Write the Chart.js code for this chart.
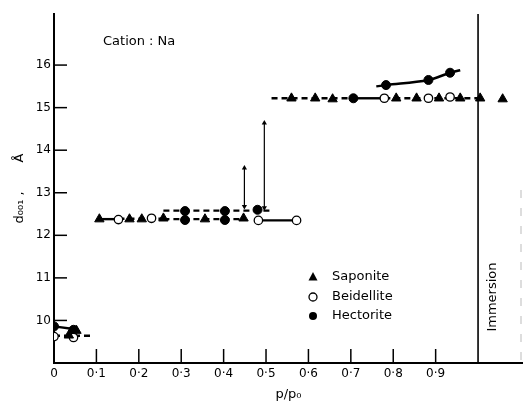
<!DOCTYPE html>
<html><head><meta charset="utf-8">
<script src="https://cdn.jsdelivr.net/npm/chart.js@4.4.1/dist/chart.umd.min.js"></script>
<style>html,body{margin:0;padding:0;background:#fff}#wrap{width:523px;height:402px;position:relative}</style>
</head><body><div id="wrap"><canvas id="c"></canvas></div>
<script>
// ---- tick labels ----
const xTickValues = [0, 0.1, 0.2, 0.3, 0.4, 0.5, 0.6, 0.7, 0.8, 0.9];
const xTickLabels = ['0', '0·1', '0·2', '0·3', '0·4', '0·5', '0·6', '0·7', '0·8', '0·9'];
const yTickValues = [10, 11, 12, 13, 14, 15, 16];
const yTickLabels = ['10', '11', '12', '13', '14', '15', '16'];

// ---- series (p/p0, d001 in Å) ----
const saponiteX = [0.035, 0.053, 0.107, 0.178, 0.207, 0.258, 0.356, 0.447, 0.56, 0.616, 0.657, 0.807, 0.855, 0.908, 0.958, 1.005, 1.058];
const saponiteY = [9.65, 9.76, 12.38, 12.38, 12.38, 12.4, 12.38, 12.4, 15.22, 15.22, 15.2, 15.22, 15.22, 15.22, 15.22, 15.22, 15.2];
const beidelliteX = [0.0, 0.046, 0.152, 0.230, 0.482, 0.572, 0.779, 0.883, 0.934];
const beidelliteY = [9.62, 9.6, 12.37, 12.4, 12.35, 12.35, 15.22, 15.22, 15.25];
const hectoriteX = [0.0, 0.046, 0.309, 0.309, 0.403, 0.403, 0.48, 0.706, 0.783, 0.883, 0.934];
const hectoriteY = [9.86, 9.78, 12.57, 12.36, 12.57, 12.36, 12.6, 15.22, 15.53, 15.65, 15.82];

// ---- connecting lines ----
const dashedSegX = [[0, 0.085], [0.152, 0.258], [0.258, 0.45], [0.258, 0.51], [0.513, 0.706], [0.779, 1.005], [0.76, 0.783]];
const dashedSegY = [[9.64, 9.64], [12.39, 12.39], [12.38, 12.38], [12.58, 12.58], [15.22, 15.22], [15.22, 15.22], [15.5, 15.53]];
const solidSegX = [[0, 0.046], [0.107, 0.152], [0.482, 0.572], [0.706, 0.779]];
const solidSegY = [[9.86, 9.8], [12.38, 12.38], [12.35, 12.35], [15.22, 15.22]];
const hectoriteCurveX = [0.783, 0.883, 0.934, 0.958];
const hectoriteCurveY = [15.53, 15.65, 15.82, 15.88];
const arrowX = [0.449, 0.496];
const arrowLowY = [12.68, 12.65];
const arrowHighY = [13.58, 14.64];
const immersionX = 1.0;
const yMin = 9, yMax = 17.2, xMin = 0, xMax = 1.106;

const pts = (xs, ys) => xs.map((x, i) => ({x: x, y: ys[i]}));
const datasets = [];
datasets.push({label: 'Saponite', data: pts(saponiteX, saponiteY), showLine: false, pointStyle: 'triangle',
  pointRadius: 5.4, pointBackgroundColor: '#000', pointBorderColor: '#000', pointBorderWidth: 1, order: 0});
datasets.push({label: 'Beidellite', data: pts(beidelliteX, beidelliteY), showLine: false, pointStyle: 'circle',
  pointRadius: 4.2, pointBackgroundColor: '#fff', pointBorderColor: '#000', pointBorderWidth: 1.3, order: 0});
datasets.push({label: 'Hectorite', data: pts(hectoriteX, hectoriteY), showLine: false, pointStyle: 'circle',
  pointRadius: 4.5, pointBackgroundColor: '#000', pointBorderColor: '#000', pointBorderWidth: 1, order: 0});
dashedSegX.forEach((xs, k) => datasets.push({data: pts(xs, dashedSegY[k]), showLine: true, pointRadius: 0,
  borderColor: '#000', borderWidth: 2.4, borderDash: [6, 4], order: 5}));
solidSegX.forEach((xs, k) => datasets.push({data: pts(xs, solidSegY[k]), showLine: true, pointRadius: 0,
  borderColor: '#000', borderWidth: 2.4, order: 5}));
datasets.push({data: pts(hectoriteCurveX, hectoriteCurveY), showLine: true, pointRadius: 0, tension: 0.35,
  borderColor: '#000', borderWidth: 2.6, order: 5});
arrowX.forEach((x, k) => datasets.push({data: [{x: x, y: arrowHighY[k]}, {x: x, y: arrowLowY[k]}], showLine: true,
  borderColor: '#000', borderWidth: 1.2, pointStyle: 'triangle', pointRadius: 3, pointRotation: [0, 180],
  pointBackgroundColor: '#000', pointBorderColor: '#000', pointBorderWidth: 0, order: 5}));
datasets.push({data: [{x: immersionX, y: yMin}, {x: immersionX, y: yMax}], showLine: true, pointRadius: 0,
  borderColor: '#000', borderWidth: 1.6, order: 6});

const FONT = '"DejaVu Sans", sans-serif';

const decor = {
  id: 'decor',
  afterDraw(chart) {
    const ctx = chart.ctx, xs = chart.scales.x, ys = chart.scales.y, a = chart.chartArea;
    ctx.save();
    ctx.strokeStyle = '#000'; ctx.lineWidth = 1.5;
    xTickValues.forEach(v => { if (v === 0) return; const p = xs.getPixelForValue(v);
      ctx.beginPath(); ctx.moveTo(p, a.bottom); ctx.lineTo(p, a.bottom - 14); ctx.stroke(); });
    yTickValues.forEach(v => { const p = ys.getPixelForValue(v);
      ctx.beginPath(); ctx.moveTo(a.left, p); ctx.lineTo(a.left + 13, p); ctx.stroke(); });
    // faint scan edge
    ctx.strokeStyle = '#bbb'; ctx.lineWidth = 1; ctx.setLineDash([8, 10]);
    ctx.beginPath(); ctx.moveTo(521, 190); ctx.lineTo(521, 360); ctx.stroke(); ctx.setLineDash([]);
    ctx.fillStyle = '#000';
    ctx.font = '13px ' + FONT; ctx.textBaseline = 'middle'; ctx.textAlign = 'left';
    ctx.fillText('Cation : Na', 103, 42);
    // legend
    const lx = 313, rows = [277, 297, 316], names = ['Saponite', 'Beidellite', 'Hectorite'];
    rows.forEach((y, i) => {
      ctx.fillStyle = '#000'; ctx.strokeStyle = '#000'; ctx.lineWidth = 1.3;
      if (i === 0) { ctx.beginPath(); ctx.moveTo(lx, y - 5); ctx.lineTo(lx + 4.5, y + 3.5); ctx.lineTo(lx - 4.5, y + 3.5); ctx.closePath(); ctx.fill(); }
      else { ctx.beginPath(); ctx.arc(lx, y, 4, 0, Math.PI * 2); if (i === 2) ctx.fill(); else ctx.stroke(); }
      ctx.fillText(names[i], 332, y);
    });
    // Immersion
    ctx.translate(493, 297); ctx.rotate(-Math.PI / 2); ctx.textAlign = 'center';
    ctx.fillText('Immersion', 0, 0);
    ctx.restore();
  }
};

new Chart(document.getElementById('c'), {
  type: 'scatter',
  data: {datasets: datasets},
  options: {
    responsive: true, maintainAspectRatio: false, animation: false,
    layout: {autoPadding: false, padding: {top: 14, right: 0, left: 0, bottom: 0}},
    plugins: {legend: {display: false}, tooltip: {enabled: false}},
    scales: {
      x: {type: 'linear', min: xMin, max: xMax,
        afterBuildTicks: s => { s.ticks = xTickValues.map(v => ({value: v})); },
        afterFit: s => { s.height = 39; s.paddingLeft = 0; s.paddingRight = 0; },
        grid: {display: false, drawTicks: false},
        border: {display: true, color: '#000', width: 2},
        ticks: {color: '#000', font: {family: FONT, size: 12}, padding: 4, maxRotation: 0, autoSkip: false,
          callback: (v, i) => xTickLabels[i]},
        title: {display: true, text: 'p/p₀', color: '#000', font: {family: FONT, size: 13}, padding: {top: 0, bottom: 0}}
      },
      y: {type: 'linear', min: yMin, max: yMax,
        afterBuildTicks: s => { s.ticks = yTickValues.map(v => ({value: v})); },
        afterFit: s => { s.width = 54; s.paddingTop = 0; s.paddingBottom = 0; },
        grid: {display: false, drawTicks: false},
        border: {display: true, color: '#000', width: 2},
        ticks: {color: '#000', font: {family: FONT, size: 12}, padding: 3, autoSkip: false,
          callback: (v, i) => yTickLabels[i]},
        title: {display: true, text: 'd₀₀₁ ,       Å', color: '#000', font: {family: FONT, size: 13}, padding: {top: 12, bottom: 0}}
      }
    }
  },
  plugins: [decor]
});
</script></body></html>
